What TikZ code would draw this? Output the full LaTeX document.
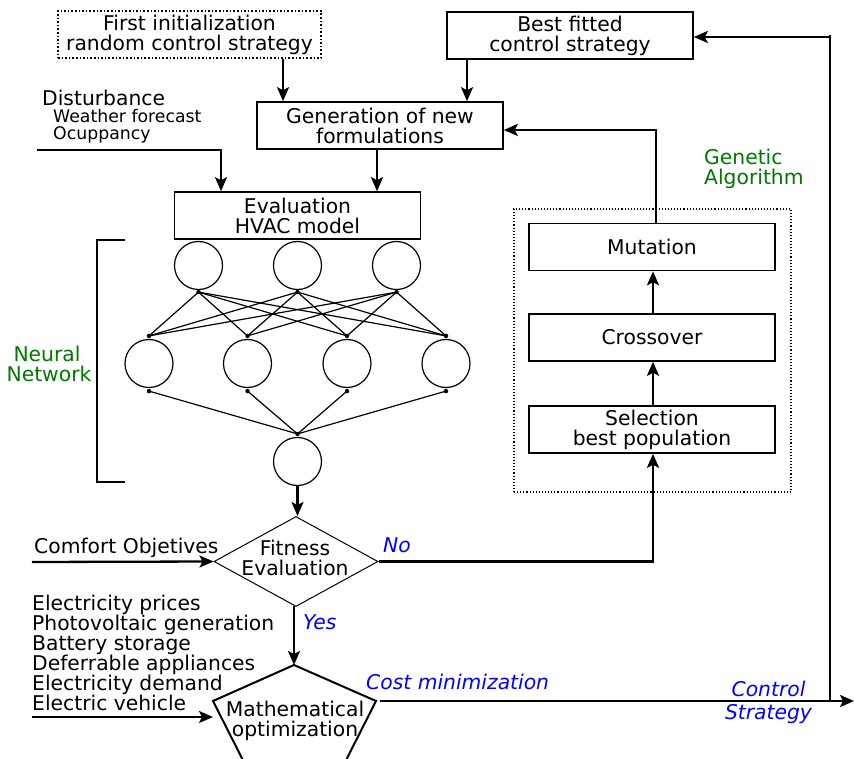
\documentclass[tikz,border=0pt]{standalone}
\usepackage{fontspec}
\setmainfont{DejaVu Sans}
\usetikzlibrary{arrows.meta,shapes.geometric,calc}
\definecolor{gagreen}{RGB}{0,120,0}
\definecolor{lblblue}{RGB}{0,0,255}
\begin{document}
\begin{tikzpicture}[x=1pt,y=-1pt,
  every node/.style={inner sep=0pt, font=\fontsize{20.3}{20}\selectfont},
  stepbox/.style={draw, line width=1.6pt, minimum width=246pt, minimum height=47pt, align=center},
  flow/.style={line width=2.3pt, -{Stealth[length=14pt,width=12pt,inset=3pt]}},
  wire/.style={line width=2.3pt},
  neuron/.style={circle, draw, line width=1.2pt, minimum size=48pt},
  syn/.style={line width=1.2pt},
  dot/.style={circle, fill, minimum size=4.5pt},
  note/.style={anchor=base west},
  small/.style={font=\fontsize{17.3}{17}\selectfont},
  tag/.style={text=lblblue, font=\fontsize{20.3}{20}\selectfont\itshape},
  group/.style={text=gagreen}
]
\useasboundingbox (0,0) rectangle (854,759);

% process boxes
\node[stepbox, dotted, line width=1.1pt, minimum width=263pt] (init) at (189.5,34.5) {First initialization\\random control strategy};
\node[stepbox] (best) at (570,35.5) {Best fitted\\control strategy};
\node[stepbox] (gen) at (380,125.5) {Generation of new\\formulations};
\node[stepbox] (eval) at (297.5,215.5) {Evaluation\\HVAC model};

% genetic algorithm block
\node[draw, dotted, line width=1.1pt, minimum width=277pt, minimum height=283pt] (gaframe) at (652.5,350.5) {};
\node[stepbox] (mut) at (652,247) {Mutation};
\node[stepbox] (cross) at (652,337.5) {Crossover};
\node[stepbox] (sel) at (652,429.5) {Selection\\best population};
\node[group, anchor=base west] (gatitle1) at (704,165) {Genetic};
\node[group, anchor=base west] (gatitle2) at (704,185) {Algorithm};

% neural network
\foreach \i/\x in {1/198.5,2/297.5,3/396.5}
  \node[neuron] (h\i) at (\x,265.5) {};
\foreach \j/\x in {1/149,2/247.5,3/347,4/446}
  \node[neuron] (m\j) at (\x,363.5) {};
\node[neuron] (o) at (297.5,461.5) {};
\foreach \i in {1,2,3} \coordinate (ha\i) at ($(h\i.south)+(0,2)$);
\foreach \j in {1,2,3,4} {
  \coordinate (mi\j) at ($(m\j.north)+(0,-3)$);
  \coordinate (mo\j) at ($(m\j.south)+(0,3)$);
}
\coordinate (oi) at ($(o.north)+(0,-3)$);
\foreach \i in {1,2,3} \foreach \j in {1,2,3,4} \draw[syn] (ha\i) -- (mi\j);
\foreach \j in {1,2,3,4} \draw[syn] (mo\j) -- (oi);
\foreach \p in {ha1,ha2,ha3,mi1,mi2,mi3,mi4,mo1,mo2,mo3,mo4,oi}
  \node[dot] at (\p) {};
\draw[wire] (125,240) -- (97,240) -- (97,482) -- (125,482);
\node[group, anchor=base] (nn1) at (47,361) {Neural};
\node[group, anchor=base] (nn2) at (49,381) {Network};

% fitness test
\node[diamond, draw, line width=1pt, minimum width=164pt, minimum height=90pt] (fit) at (296,561.5) {};
\node[align=center] (fittext) at (295,558) {Fitness\\Evaluation};

% optimisation pentagon
\coordinate (opttop) at (294,665);
\draw[line width=2pt] (opttop) -- (376,701) -- (336,780) -- (253,780) -- (213,701) -- cycle;
\node[align=center] (opt) at (295,721) {Mathematical\\optimization};

% inputs
\node[note] (dist) at (42,106) {Disturbance};
\node[note, small] (weather) at (53,123) {Weather forecast};
\node[note, small] (occ) at (53,140) {Ocuppancy};
\coordinate (distin) at (37,150);
\node[note] (comf) at (34,553) {Comfort Objetives};
\coordinate (comfin) at (32,562);
\foreach \t [count=\k from 0] in {Electricity prices,Photovoltaic generation,Battery storage,Deferrable appliances,Electricity demand,Electric vehicle}
  \node[note] (in\k) at (32,610.5+20*\k) {\t};
\coordinate (elecin) at (32,717);
\coordinate (optin) at (213,717);
\coordinate (optout) at (380,701);
\coordinate (exit) at (854,701);
\coordinate (fbtop) at (830,35);
\coordinate (fb) at (830,37);
\coordinate (yesfoot) at (294,606);

% connectors
\draw[flow] ($(init.south)+(93.5,0)$) -- ($(gen.north)+(-97,0)$);
\draw[flow] ($(best.south)+(-103,0)$) -- ($(gen.north)+(87,0)$);
\draw[flow] ($(gen.south)+(-3,0)$) -- ($(eval.north)+(79.5,0)$);
\draw[flow] (distin) -| ($(eval.north)+(-76.5,0)$);
\draw[flow] ($(mut.north)+(4,0)$) |- ($(gen.east)+(0,4.5)$);
\draw[flow] ($(cross.north)+(1,0)$) -- ($(mut.south)+(1,0)$);
\draw[flow] ($(sel.north)+(1,0)$) -- ($(cross.south)+(1,0)$);
\draw[flow] (o.south) -- (o.south |- fit.north);
\draw[flow] (fit.east) -| ($(sel.south)+(1,0)$);
\draw[flow] (yesfoot) -- (opttop);
\draw[flow] (comfin) -- (fit.west);
\draw[flow] (elecin) -- (optin);
\draw[flow] (optout) -- (exit);
\draw[wire] (optout -| fb) -- (fbtop);
\draw[flow] (fb) -- (fb -| best.east);

% branch labels
\node[tag, anchor=base west] (no) at (383,552) {No};
\node[tag, anchor=base west] (yes) at (303,629) {Yes};
\node[tag, anchor=base west] (cost) at (366,689) {Cost minimization};
\node[tag, anchor=base] (ctrl1) at (768.5,696) {Control};
\node[tag, anchor=base] (ctrl2) at (768.5,719) {Strategy};
\end{tikzpicture}
\end{document}
